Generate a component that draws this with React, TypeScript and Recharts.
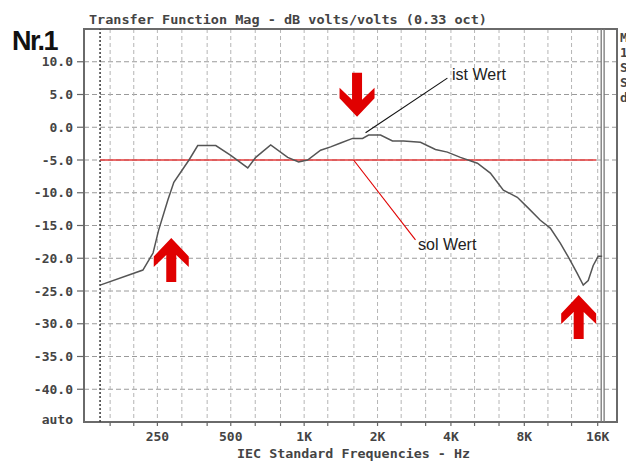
import React from 'react';
import {
  LineChart,
  Line,
  XAxis,
  YAxis,
  CartesianGrid,
  ReferenceLine,
  ReferenceArea,
  ReferenceDot,
} from 'recharts';

// measured transfer function (ist Wert)
const freqHz = [145.5, 218, 240, 253, 276, 292, 337, 366, 434, 500, 587, 633, 729, 856, 949, 1033, 1168, 1284, 1411, 1580, 1736, 1838, 2057, 2304, 2556, 3000, 3456, 3869, 4374, 5136, 5805, 6563, 7488, 8230, 9305, 10225, 11236, 12117, 13187, 13958, 14631, 15337, 16078, 16690];
const magDb = [-24.1, -21.8, -19.2, -15.7, -11.1, -8.4, -5.0, -2.8, -2.8, -4.3, -6.2, -4.6, -2.7, -4.6, -5.3, -5.0, -3.5, -3.0, -2.4, -1.7, -1.7, -1.2, -1.2, -2.1, -2.1, -2.3, -3.4, -3.8, -4.6, -5.5, -7.0, -9.6, -10.7, -12.2, -14.2, -15.4, -17.7, -19.8, -22.3, -24.1, -23.4, -21.1, -19.7, -19.7];

// target (sol Wert)
const targetFreq = [145.5, 15780];
const targetDb = [-5, -5];

// IEC third-octave bands
const bandTicks = [160, 200, 250, 315, 400, 500, 630, 800, 1000, 1250, 1600, 2000, 2500, 3150, 4000, 5000, 6300, 8000, 10000, 12500, 16000];
const bandLabels: Record<number, string> = { 250: '250', 500: '500', 1000: '1K', 2000: '2K', 4000: '4K', 8000: '8K', 16000: '16K' };
const dbTicks = [-45, -40, -35, -30, -25, -20, -15, -10, -5, 0, 5, 10];

const xDomain = [125, 19200];
const yDomain = [-45, 15];

// markers / annotations in data coordinates
const startMarkerHz = 145.5;
const endMarkersHz = [16540, 17000];
const upArrowA = { f: 285, db: -16.9 };
const downArrowB = { f: 1648, db: 1.6 };
const upArrowC = { f: 13370, db: -25.6 };
const istLeader = [{ x: 3869, y: 7.5 }, { x: 1786, y: -0.85 }];
const solLeader = [{ x: 1595, y: -5 }, { x: 2862, y: -17.2 }];

const curve = freqHz.map((f, i) => ({ f, mag: magDb[i] }));
const target = targetFreq.map((f, i) => ({ f, sol: targetDb[i] }));

const MONO = '"DejaVu Sans Mono", monospace';
const SANS = '"Liberation Sans", Arial, sans-serif';
const RED = '#e00000';

const UpArrow = (p: any) => {
  const { cx, cy } = p;
  const pts = [
    [0, 0], [17.5, 18.5], [17.5, 29], [5, 17], [5, 44], [-5, 44], [-5, 17], [-17.5, 29], [-17.5, 18.5],
  ].map(([dx, dy]) => `${cx + dx},${cy + dy}`).join(' ');
  return <polygon points={pts} fill={RED} />;
};

const DownArrow = (p: any) => {
  const { cx, cy } = p;
  const pts = [
    [0, 0], [17.5, -18.5], [17.5, -29], [5, -17], [5, -44], [-5, -44], [-5, -17], [-17.5, -29], [-17.5, -18.5],
  ].map(([dx, dy]) => `${cx + dx},${cy + dy}`).join(' ');
  return <polygon points={pts} fill={RED} />;
};

const YTick = (p: any) => {
  const { x, y, payload } = p;
  const v = payload.value as number;
  const label = v === -45 ? 'auto' : v.toFixed(1);
  return (
    <g>
      <text x={x} y={v === -45 ? y - 3 : y} dy="0.35em" textAnchor="end" fontFamily={MONO} fontWeight="bold" fontSize={13} fill="#444">
        {label}
      </text>
      {v !== -45 && <line x1={x + 4} x2={x + 11} y1={y} y2={y} stroke="#666" strokeWidth={1.2} />}
    </g>
  );
};

export default function App() {
  return (
    <div style={{ position: 'absolute', left: 0, top: 0, width: 626, height: 461, overflow: 'hidden', background: '#fff' }}>
      <LineChart width={626} height={461} margin={{ top: 29, right: 9, bottom: 0, left: 0 }} data={curve}>
        <CartesianGrid horizontal={true} vertical={false} stroke="#9a9a9a" strokeDasharray="5 3" />
        <CartesianGrid horizontal={false} vertical={true} stroke="#b5b5b5" strokeDasharray="4 3" />
        <XAxis
          dataKey="f"
          type="number"
          scale="log"
          domain={xDomain}
          allowDataOverflow
          ticks={bandTicks}
          interval={0}
          height={39}
          axisLine={false}
          tickSize={4}
          tickMargin={6}
          tickLine={{ stroke: '#666', strokeWidth: 1.2 }}
          tickFormatter={(v: number) => bandLabels[v] || ''}
          tick={{ fontSize: 13, fontFamily: MONO, fontWeight: 'bold', fill: '#444' }}
        />
        <YAxis
          type="number"
          domain={yDomain}
          allowDataOverflow
          ticks={dbTicks}
          interval={0}
          width={84}
          axisLine={false}
          tickLine={false}
          tickSize={0}
          tickMargin={11}
          tick={<YTick />}
        />
        <ReferenceArea x1={xDomain[0]} x2={xDomain[1]} y1={yDomain[0]} y2={yDomain[1]} fill="none" fillOpacity={0} stroke="#6a6a6a" strokeWidth={2} ifOverflow="visible" />
        <ReferenceLine x={startMarkerHz} stroke="#444" strokeWidth={1.6} strokeDasharray="2 2" />
        {endMarkersHz.map((f) => (
          <ReferenceLine key={f} x={f} stroke="#777" strokeWidth={1.3} />
        ))}
        <Line data={target} dataKey="sol" type="linear" stroke="#e33a3a" strokeWidth={1.6} dot={false} isAnimationActive={false} />
        <Line dataKey="mag" type="linear" stroke="#555" strokeWidth={1.5} dot={false} isAnimationActive={false} />
        <ReferenceLine segment={istLeader} stroke="#111" strokeWidth={1.1} />
        <ReferenceLine segment={solLeader} stroke={RED} strokeWidth={1.1} />
        <ReferenceDot x={upArrowA.f} y={upArrowA.db} r={0} shape={(p: any) => <UpArrow {...p} />} ifOverflow="visible" />
        <ReferenceDot x={downArrowB.f} y={downArrowB.db} r={0} shape={(p: any) => <DownArrow {...p} />} ifOverflow="visible" />
        <ReferenceDot x={upArrowC.f} y={upArrowC.db} r={0} shape={(p: any) => <UpArrow {...p} />} ifOverflow="visible" />
      </LineChart>
      <svg width={626} height={461} style={{ position: 'absolute', left: 0, top: 0, pointerEvents: 'none' }}>
        <text x={12} y={50} fontFamily={SANS} fontWeight="bold" fontSize={27} letterSpacing={-1.5} fill="#111">Nr.1</text>
        <text x={89} y={24} fontFamily={MONO} fontWeight="bold" fontSize={13} fill="#444" textLength={398} lengthAdjust="spacingAndGlyphs">
          Transfer Function Mag - dB volts/volts (0.33 oct)
        </text>
        <text x={237} y={458} fontFamily={MONO} fontWeight="bold" fontSize={13} fill="#444" textLength={233} lengthAdjust="spacingAndGlyphs">
          IEC Standard Frequencies - Hz
        </text>
        <text x={452} y={80} fontFamily={SANS} fontSize={16} fill="#222">ist Wert</text>
        <text x={418} y={250} fontFamily={SANS} fontSize={16} fill="#222">sol Wert</text>
        {['M', '1', 'S', 'S', 'd'].map((c, i) => (
          <text key={i} x={620} y={42 + i * 15} fontFamily={MONO} fontWeight="bold" fontSize={13} fill="#444">{c}</text>
        ))}
      </svg>
    </div>
  );
}
